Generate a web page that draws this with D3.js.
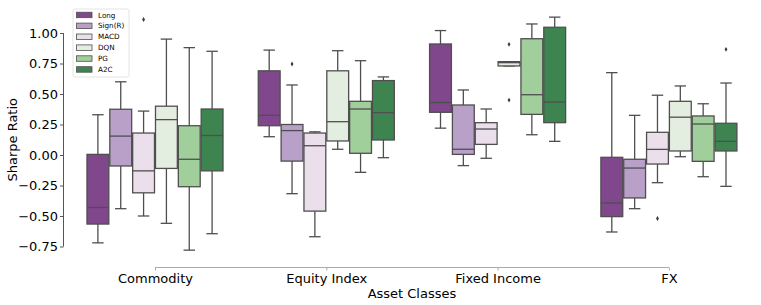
<!DOCTYPE html>
<html>
<head>
<meta charset="utf-8">
<script src="https://cdn.jsdelivr.net/npm/d3@7"></script>
<style>
  body { margin: 0; background: #fff; }
  text { font-family: "DejaVu Sans", sans-serif; fill: #000; }
</style>
</head>
<body>
<div class="viz"></div>
<script>
var categories = ["Commodity", "Equity Index", "Fixed Income", "FX"];
var models = ["Long", "Sign(R)", "MACD", "DQN", "PG", "A2C"];
var colors = ["#80478c", "#b9a0c9", "#eadfeb", "#e3eee0", "#a0cf9b", "#3e8450"];
var yTicks = [1.0, 0.75, 0.5, 0.25, 0.0, -0.25, -0.5, -0.75];

// [whisker low, q1, median, q3, whisker high] per category
var longStats = [
  [-0.72, -0.566, -0.43, 0.005, 0.33],
  [0.15, 0.24, 0.325, 0.69, 0.86],
  [0.22, 0.35, 0.43, 0.91, 1.02],
  [-0.631, -0.505, -0.393, -0.019, 0.675]
];
var signStats = [
  [-0.44, -0.09, 0.155, 0.375, 0.6],
  [-0.317, -0.05, 0.2, 0.25, 0.574],
  [-0.087, 0.005, 0.047, 0.41, 0.533],
  [-0.44, -0.352, -0.107, -0.035, 0.325]
];
var macdStats = [
  [-0.5, -0.31, -0.13, 0.18, 0.36],
  [-0.67, -0.46, 0.076, 0.18, 0.19],
  [-0.027, 0.087, 0.213, 0.265, 0.377],
  [-0.227, -0.074, 0.046, 0.186, 0.49]
];
var dqnStats = [
  [-0.56, -0.11, 0.29, 0.4, 0.95],
  [0.047, 0.115, 0.273, 0.69, 0.855],
  [0.73, 0.73, 0.757, 0.765, 0.765],
  [-0.014, 0.033, 0.31, 0.44, 0.566]
];
var pgStats = [
  [-0.78, -0.26, -0.035, 0.24, 0.88],
  [-0.142, 0.014, 0.377, 0.44, 0.773],
  [0.166, 0.333, 0.494, 0.953, 1.074],
  [-0.178, -0.052, 0.254, 0.32, 0.42]
];
var a2cStats = [
  [-0.645, -0.13, 0.16, 0.377, 0.85],
  [-0.022, 0.123, 0.347, 0.61, 0.64],
  [0.112, 0.265, 0.434, 1.047, 1.13],
  [-0.257, 0.033, 0.112, 0.26, 0.59]
];
var allStats = [longStats, signStats, macdStats, dqnStats, pgStats, a2cStats];

// outliers: [category index, model index, value]
var outliers = [
  [0, 2, 1.11],
  [1, 1, 0.746],
  [2, 3, 0.907],
  [2, 3, 0.45],
  [3, 2, -0.52],
  [3, 5, 0.866]
];

var width = 761, height = 305;
var lineColor = "#4f4f4f";

var svg = d3.select(".viz").append("svg")
  .attr("width", width)
  .attr("height", height);

var step = 171.3;
var x = d3.scalePoint()
  .domain(categories)
  .range([155, 155 + step * 3]);

var y = d3.scaleLinear()
  .domain([-0.75, 1.0])
  .range([246.5, 33]);

var groupW = step * 0.8;
var boxW = groupW / models.length;

function boxX(ci, mi) {
  return x(categories[ci]) - groupW / 2 + mi * boxW;
}

// y axis (trimmed)
var yAxis = d3.axisLeft(y).tickValues(yTicks)
  .tickFormat(function (d) { return d3.format(".2f")(d).replace("-", "\u2212"); })
  .tickSize(3.5).tickPadding(2);
var gy = svg.append("g").attr("transform", "translate(63.5,0)").call(yAxis);
gy.select(".domain").attr("stroke", "#555").attr("d", "M0," + y(1.0) + "V" + y(-0.75));
gy.selectAll(".tick line").attr("stroke", "#555");
gy.selectAll("text").style("font-size", "13px").style("font-family", "DejaVu Sans");

// x axis (trimmed)
var xAxis = d3.axisBottom(x).tickSize(3).tickPadding(3);
var gx = svg.append("g").attr("transform", "translate(0,267.5)").call(xAxis);
gx.select(".domain").attr("stroke", "#aaa").attr("d", "M" + x(categories[0]) + ",0H" + x(categories[3]));
gx.selectAll(".tick line").attr("stroke", "#aaa");
gx.selectAll("text").style("font-size", "13px").style("font-family", "DejaVu Sans");

svg.append("text")
  .attr("x", (x(categories[0]) + x(categories[3])) / 2)
  .attr("y", 298)
  .attr("text-anchor", "middle")
  .style("font-size", "13px")
  .text("Asset Classes");

svg.append("text")
  .attr("transform", "translate(17," + y(0.125) + ")rotate(-90)")
  .attr("text-anchor", "middle")
  .style("font-size", "13px")
  .text("Sharpe Ratio");

// boxes
var g = svg.append("g");
allStats.forEach(function (stats, mi) {
  stats.forEach(function (s, ci) {
    var x0 = boxX(ci, mi), cx = x0 + boxW / 2, capW = boxW * 0.5;
    var bg = g.append("g");
    bg.append("line").attr("x1", cx).attr("x2", cx).attr("y1", y(s[0])).attr("y2", y(s[1]))
      .attr("stroke", lineColor).attr("stroke-width", 1.3);
    bg.append("line").attr("x1", cx).attr("x2", cx).attr("y1", y(s[3])).attr("y2", y(s[4]))
      .attr("stroke", lineColor).attr("stroke-width", 1.3);
    [s[0], s[4]].forEach(function (v) {
      bg.append("line").attr("x1", cx - capW / 2).attr("x2", cx + capW / 2)
        .attr("y1", y(v)).attr("y2", y(v))
        .attr("stroke", lineColor).attr("stroke-width", 1.3);
    });
    bg.append("rect")
      .attr("x", x0 + 0.5).attr("width", boxW - 1)
      .attr("y", y(s[3])).attr("height", y(s[1]) - y(s[3]))
      .attr("fill", colors[mi]).attr("stroke", lineColor).attr("stroke-width", 1.3);
    bg.append("line").attr("x1", x0 + 0.5).attr("x2", x0 + boxW - 0.5)
      .attr("y1", y(s[2])).attr("y2", y(s[2]))
      .attr("stroke", lineColor).attr("stroke-width", 1.3);
  });
});

// outliers
g.selectAll(".flier").data(outliers).enter().append("path")
  .attr("class", "flier")
  .attr("d", d3.symbol().type(d3.symbolDiamond).size(7))
  .attr("transform", function (d) {
    return "translate(" + (boxX(d[0], d[1]) + boxW / 2) + "," + y(d[2]) + ")";
  })
  .attr("fill", "#3a3a3a");

// legend
var lg = svg.append("g").attr("transform", "translate(73,9)");
lg.append("rect").attr("width", 56).attr("height", 68).attr("rx", 2)
  .attr("fill", "#fff").attr("stroke", "#ddd").attr("stroke-width", 0.8);
models.forEach(function (m, i) {
  var ry = 6 + i * 10.9;
  lg.append("rect").attr("x", 3.5).attr("y", ry - 2.8).attr("width", 15.5).attr("height", 5.5)
    .attr("fill", colors[i]).attr("stroke", lineColor).attr("stroke-width", 0.8);
  lg.append("text").attr("x", 25).attr("y", ry + 2.5)
    .style("font-size", "7.2px").text(m);
});
</script>
</body>
</html>
